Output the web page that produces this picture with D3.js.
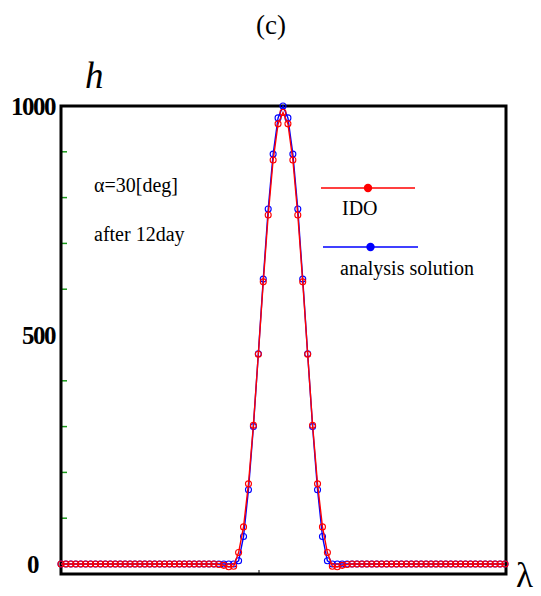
<!DOCTYPE html>
<html>
<head>
<meta charset="utf-8">
<script src="https://cdn.jsdelivr.net/npm/d3@7"></script>
<style>
  html, body { margin: 0; padding: 0; background: #fff; }
  svg { display: block; }
  text { font-family: "Liberation Serif", "Times New Roman", serif; fill: #000; }
</style>
</head>
<body>
<div id="chart"></div>
<script>
// Height field along the λ grid (grid index 0..90), cosine-bell test after 12 days.
const analysisValues = [
  0,0,0,0,0,0,0,0,0,0, 0,0,0,0,0,0,0,0,0,0, 0,0,0,0,0,0,0,0,0,0, 0,0,0,0,0,0,
  7,60,162,300,459,622,775,895,974,1000,974,895,775,622,459,300,162,60,7,
  0,0,0,0,0,0,0,0,0,0, 0,0,0,0,0,0,0,0,0,0, 0,0,0,0,0,0,0,0,0,0, 0,0,0,0,0,0
];
const idoValues = [
  0,0,0,0,0,0,0,0,0,0, 0,0,0,0,0,0,0,0,0,0, 0,0,0,0,0,0,0,0,0,0, 0,0,
  -1,-3,-6,-5,25,81,175,303,458,616,762,882,961,986,961,882,762,616,458,303,175,81,25,-5,-6,-3,-1,
  0,0,0,0,0,0,0,0,0,0, 0,0,0,0,0,0,0,0,0,0, 0,0,0,0,0,0,0,0,0,0, 0,0
];
const yTickValues = [0, 500, 1000];
const yMinorTicks = [100, 200, 300, 400, 600, 700, 800, 900];
const seriesNames = ["IDO", "analysis solution"];
const seriesColors = ["#ff0000", "#0000ff"];
const annotations = ["α=30[deg]", "after 12day"];

const W = 541, H = 596;
const frame = { left: 61, right: 506, top: 106, bottom: 574 };

const svg = d3.select("#chart").append("svg")
  .attr("width", W).attr("height", H);

const x = d3.scaleLinear().domain([0, analysisValues.length - 1]).range([61, 505]);
const y = d3.scaleLinear().domain([0, 1000]).range([564, 106]);

// Title
svg.append("text").attr("x", 271).attr("y", 34)
  .attr("text-anchor", "middle").style("font-size", "27px").text("(c)");

// Axis names
svg.append("text").attr("x", 85).attr("y", 88)
  .style("font-size", "37px").style("font-style", "italic").text("h");
svg.append("text").attr("x", 516).attr("y", 587)
  .style("font-size", "35px").text("λ");

// Minor ticks on the left axis (green)
svg.append("g").selectAll("line").data(yMinorTicks.concat([1000])).join("line")
  .attr("x1", frame.left).attr("x2", frame.left + 6)
  .attr("y1", d => y(d)).attr("y2", d => y(d))
  .attr("stroke", "#1a9a1a").attr("stroke-width", 1.5);
svg.append("line")
  .attr("x1", frame.left).attr("x2", frame.left + 10)
  .attr("y1", frame.bottom).attr("y2", frame.bottom)
  .attr("stroke", "#1a9a1a").attr("stroke-width", 2);

// Y tick labels: left-aligned in a column, right-aligned when too wide for it
const labelCol = 27, labelEnd = 55;
svg.append("g").selectAll("text").data(yTickValues).join("text")
  .attr("y", d => y(d)).attr("dy", "0.35em")
  .style("font-size", "25px").style("font-weight", "bold")
  .style("letter-spacing", "-1.5px")
  .text(d => d)
  .each(function () {
    const w = this.getComputedTextLength();
    const t = d3.select(this);
    if (labelCol + w > labelEnd) t.attr("x", labelEnd).attr("text-anchor", "end");
    else t.attr("x", labelCol).attr("text-anchor", "start");
  });

// Plot frame
const fr = svg.append("g").attr("stroke", "#000").attr("stroke-width", 3).attr("fill", "none");
fr.append("path").attr("d",
  `M${frame.left},${frame.top}H${frame.right}V${frame.bottom}H${frame.left}Z`);
svg.append("line").attr("x1", 259).attr("x2", 259).attr("y1", frame.bottom - 4).attr("y2", frame.bottom)
  .attr("stroke", "#000").attr("stroke-width", 1);

// Annotations
annotations.forEach((t, i) => {
  svg.append("text").attr("x", 94).attr("y", 192 + i * 49)
    .style("font-size", "20px").text(t);
});

// Series
const series = [
  { name: seriesNames[1], values: analysisValues, color: seriesColors[1] },
  { name: seriesNames[0], values: idoValues, color: seriesColors[0] }
];
const line = d3.line().x((d, i) => x(i)).y(d => y(d));
series.forEach(s => {
  const g = svg.append("g");
  g.append("path").datum(s.values)
    .attr("d", line).attr("fill", "none")
    .attr("stroke", s.color).attr("stroke-width", 1.4);
  g.selectAll("circle").data(s.values).join("circle")
    .attr("cx", (d, i) => x(i)).attr("cy", d => y(d))
    .attr("r", 3).attr("fill", "none")
    .attr("stroke", s.color).attr("stroke-width", 1.1);
});

// Legend
const legend = [
  { name: seriesNames[0], color: seriesColors[0], x1: 321, x2: 415, ly: 188, tx: 342, ty: 215 },
  { name: seriesNames[1], color: seriesColors[1], x1: 323, x2: 418, ly: 247, tx: 340, ty: 275 }
];
legend.forEach(l => {
  svg.append("line").attr("x1", l.x1).attr("x2", l.x2).attr("y1", l.ly).attr("y2", l.ly)
    .attr("stroke", l.color).attr("stroke-width", 1.4);
  svg.append("circle").attr("cx", (l.x1 + l.x2) / 2).attr("cy", l.ly).attr("r", 4.2)
    .attr("fill", l.color);
  svg.append("text").attr("x", l.tx).attr("y", l.ty)
    .style("font-size", "20px").text(l.name);
});
</script>
</body>
</html>
